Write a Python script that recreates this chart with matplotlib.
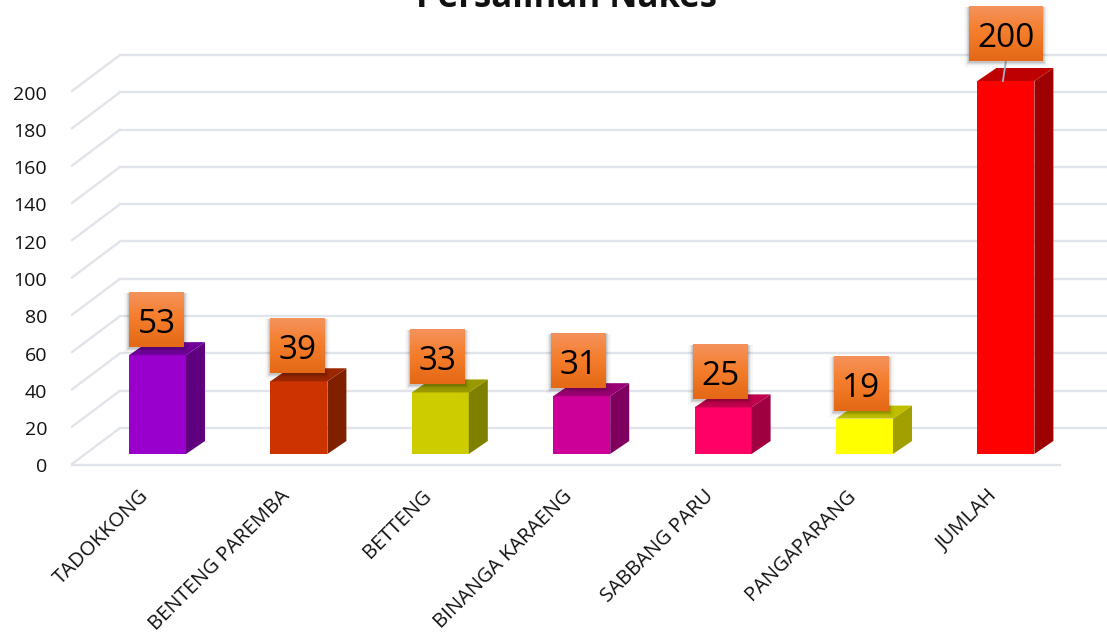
import numpy as np
import matplotlib
matplotlib.use("Agg")
import matplotlib.pyplot as plt
from matplotlib.patches import Rectangle, Polygon
from matplotlib.transforms import Affine2D, IdentityTransform

categories = ["TADOKKONG", "BENTENG PAREMBA", "BETTENG", "BINANGA KARAENG",
              "SABBANG PARU", "PANGAPARANG", "JUMLAH"]
values = [53, 39, 33, 31, 25, 19, 200]
yticks = list(range(0, 201, 20))
front_colors = ["#9900CC", "#CC3300", "#CCCC00", "#CC0099", "#FF0066", "#FFFF00", "#FF0000"]
side_colors = ["#5F007F", "#7F2000", "#7F7F00", "#7F005F", "#9F0040", "#A0A000", "#9F0000"]
top_colors = ["#70009A", "#9A2700", "#9A9A00", "#9A0073", "#BF004C", "#BFBF00", "#BF0000"]

W, H = 1107, 634
DPI = 100
plt.rcParams["font.family"] = ["Open Sans", "DejaVu Sans"]
fig = plt.figure(figsize=(W / DPI, H / DPI), dpi=DPI)

L, FRONT_Y, BAR_Y, PX_PER_UNIT, STEP, X0 = 72, 464, 454, 1.865, 141.4, 157.5
DX, DY = 19, 13       # bar depth in pixels
GX, GY = 48, 36       # wall depth in pixels
GRID = "#E1E4EA"


def axes_at(base_y):
    a = fig.add_axes([L / W, (H - base_y) / H, (W - L) / W, base_y / H])
    a.set_xlim((L - X0) / STEP, (W - X0) / STEP)
    a.set_ylim(0, base_y / PX_PER_UNIT)
    a.patch.set_alpha(0)
    return a


ax = axes_at(FRONT_Y)     # front plane of the floor: carries the axis ticks
bx = axes_at(BAR_Y)       # plane of the bar fronts
bx.axis("off")
for s in ax.spines.values():
    s.set_visible(False)

ax.set_yticks(yticks)
ax.set_xticks(range(len(categories)))
ax.set_xticklabels(categories, rotation=45, ha="right", va="top", rotation_mode="anchor")
ax.tick_params(axis="y", length=0, pad=18, labelsize=14, labelcolor="#111111")
ax.tick_params(axis="x", length=0, pad=16, labelsize=14.6, labelcolor="#111111")
for lab in ax.get_xticklabels():
    lab.set_transform(lab.get_transform() + Affine2D().translate(-19, 0))
for lab in ax.get_yticklabels():
    lab.set_transform(lab.get_transform() + Affine2D().translate(0, -1.5))


def shifted(a, dx, dy):
    return a.transData + Affine2D().translate(dx, dy)


# wall grid: front diagonals and back horizontals
xl = ax.get_xlim()
back = shifted(ax, GX, GY)
for v in yticks:
    ax.plot([xl[0], xl[0] + GX / STEP], [v, v + GY / PX_PER_UNIT], color=GRID, lw=1.7,
            clip_on=False, zorder=1)
    ax.plot([xl[0], xl[1]], [v, v], color=GRID, lw=1.7, transform=back, clip_on=False, zorder=1)
ax.plot([xl[0], (1060 - X0) / STEP], [-0.4, -0.4], color=GRID, lw=1.7, clip_on=False, zorder=1)

# bars
bar_w = 57 / STEP
bx.bar(range(len(values)), values, width=bar_w, color=front_colors, zorder=3,
       edgecolor="none", clip_on=False)
ddx, ddy = DX / STEP, DY / PX_PER_UNIT
for i, (v, sc, tc) in enumerate(zip(values, side_colors, top_colors)):
    r = i + bar_w / 2
    l = i - bar_w / 2
    bx.add_patch(Polygon([(r, 0), (r + ddx, ddy), (r + ddx, v + ddy), (r, v)], closed=True,
                         facecolor=sc, edgecolor="none", zorder=3, clip_on=False))
    bx.add_patch(Polygon([(l, v), (l + ddx, v + ddy), (r + ddx, v + ddy), (r, v)], closed=True,
                         facecolor=tc, edgecolor="none", zorder=3, clip_on=False))

# data label boxes (display coordinates derived from the bar tops)
grad = np.linspace(0, 1, 64)[:, None]
c_top, c_mid, c_bot = np.array([0xF4, 0x92, 0x5C]), np.array([0xF5, 0x7E, 0x2C]), np.array([0xE4, 0x68, 0x16])
rows = np.where(grad < 0.45, c_top + (c_mid - c_top) * grad / 0.45,
                c_mid + (c_bot - c_mid) * (grad - 0.45) / 0.55) / 255
img = rows[:, None, :]
label_dx = [-1, -1, -2.5, -3, -2.5, -3.5, 0]
for i, v in enumerate(values):
    xd, yd = bx.transData.transform((i, v))
    wide = v >= 100
    bw = 74 if wide else 55
    gap = 20 if wide else 8
    x0 = xd + label_dx[i] - bw / 2
    y0 = yd + gap
    bh = 55
    if wide:
        bx.plot([i - 3 / STEP, i], [v, v + gap / PX_PER_UNIT], color="#A9B1C4", lw=1.3,
                zorder=4, clip_on=False)
    for k, a in ((5, .03), (3, .05), (2, .07), (1, .09)):
        bx.add_patch(Rectangle((x0 - k, y0 - k - 1), bw + 2 * k, bh + k,
                               transform=IdentityTransform(), facecolor="black",
                               alpha=a, edgecolor="none", zorder=5, clip_on=False))
    bx.imshow(img, extent=(x0, x0 + bw, y0, y0 + bh), transform=IdentityTransform(),
              aspect="auto", zorder=6, clip_on=False, origin="upper")
    bx.text(x0 + bw / 2, y0 + bh / 2 - 5, str(v), transform=IdentityTransform(), ha="center",
            va="center", fontsize=24, color="#000000", zorder=7, clip_on=False)
bx.set_xlim(ax.get_xlim())
bx.set_ylim(0, BAR_Y / PX_PER_UNIT)

fig.text(567 / W, 1 - 7 / H, "Persalinan Nakes", ha="center", va="baseline",
         fontsize=25, fontweight="bold", color="#111111")

fig.savefig("out.png", dpi=DPI)
